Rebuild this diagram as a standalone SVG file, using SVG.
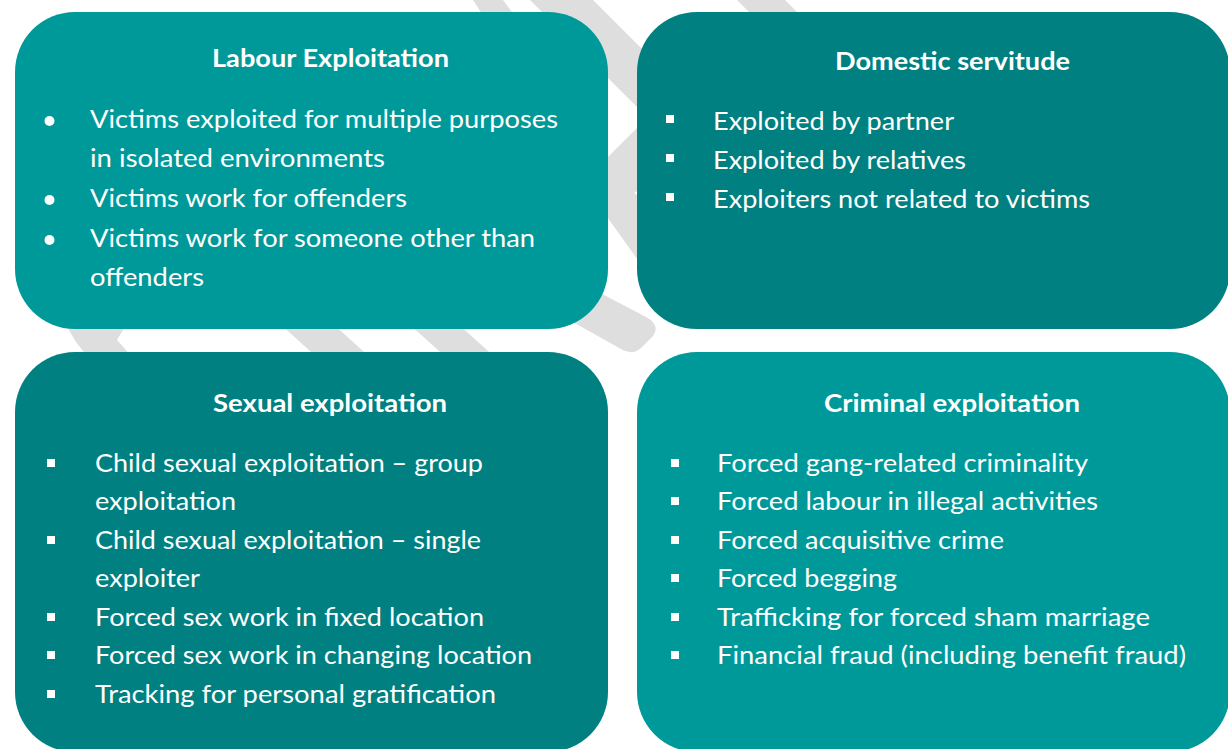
<svg xmlns="http://www.w3.org/2000/svg" width="1228" height="749" viewBox="0 0 1228 749">
  <style>
    .light { fill: #009999; }
    .dark { fill: #008080; }
    .deco { fill: #dedede; }
    .title { font-family: Lato, "Open Sans", "Liberation Sans", sans-serif; font-weight: 700; font-size: 25px; fill: #ffffff; text-anchor: middle; }
    .item { font-family: Lato, "Open Sans", "Liberation Sans", sans-serif; font-size: 25px; fill: #ffffff; }
    .sq { fill: #ffffff; }
  </style>
  <rect x="0" y="0" width="1228" height="749" fill="#ffffff"/>

  <g id="background-decoration">
    <polygon class="deco" points="473,0 503,0 540,50 505,50"/>
    <polygon class="deco" points="530,0 593,0 700,107 637,107"/>
    <polygon class="deco" points="737,0 785,0 835,50 787,50"/>
    <polygon class="deco" points="645,120 600,165 600,207 645,270 640,197 634,193 640,189"/>
    <path class="deco" d="M560,272 L648,318 Q660,326 653,336 L641,348 Q632,356 621,349 L555,312 Z"/>
    <polygon class="deco" points="268,313 321,313 384,370 331,370"/>
    <polygon class="deco" points="397,313 446,313 509,370 460,370"/>
    <path class="deco" d="M64,318 L130,318 L117,340 L135,360 L92,360 Q72,342 64,318 Z"/>
  </g>

  <g id="node-labour">
    <rect class="light" x="15" y="12" width="593" height="317" rx="60" ry="60"/>
    <text class="title" x="330.5" y="67" textLength="237" lengthAdjust="spacingAndGlyphs">Labour Exploitation</text>
    <circle class="sq" cx="49.5" cy="121" r="5"/>
    <circle class="sq" cx="49.5" cy="200" r="5"/>
    <circle class="sq" cx="49.5" cy="240" r="5"/>
    <text class="item" x="90" y="128" textLength="468" lengthAdjust="spacingAndGlyphs">Victims exploited for multiple purposes</text>
    <text class="item" x="90" y="167" textLength="295" lengthAdjust="spacingAndGlyphs">in isolated environments</text>
    <text class="item" x="90" y="207" textLength="317" lengthAdjust="spacingAndGlyphs">Victims work for offenders</text>
    <text class="item" x="90" y="247" textLength="445" lengthAdjust="spacingAndGlyphs">Victims work for someone other than</text>
    <text class="item" x="90" y="286" textLength="114" lengthAdjust="spacingAndGlyphs">offenders</text>
  </g>

  <g id="node-domestic">
    <rect class="dark" x="637" y="12" width="593" height="317" rx="60" ry="60"/>
    <text class="title" x="952.5" y="70" textLength="235" lengthAdjust="spacingAndGlyphs">Domestic servitude</text>
    <rect class="sq" x="666" y="115" width="8" height="8"/>
    <rect class="sq" x="666" y="154" width="8" height="8"/>
    <rect class="sq" x="666" y="193" width="8" height="8"/>
    <text class="item" x="713" y="130" textLength="241" lengthAdjust="spacingAndGlyphs">Exploited by partner</text>
    <text class="item" x="713" y="169" textLength="253" lengthAdjust="spacingAndGlyphs">Exploited by relatives</text>
    <text class="item" x="713" y="208" textLength="377" lengthAdjust="spacingAndGlyphs">Exploiters not related to victims</text>
  </g>

  <g id="node-sexual">
    <rect class="dark" x="15" y="352" width="593" height="400" rx="60" ry="60"/>
    <text class="title" x="330" y="412" textLength="234" lengthAdjust="spacingAndGlyphs">Sexual exploitation</text>
    <rect class="sq" x="47" y="459" width="8" height="8"/>
    <rect class="sq" x="47" y="536" width="8" height="8"/>
    <rect class="sq" x="47" y="613" width="8" height="8"/>
    <rect class="sq" x="47" y="651" width="8" height="8"/>
    <rect class="sq" x="47" y="690" width="8" height="8"/>
    <text class="item" x="95" y="472" textLength="388" lengthAdjust="spacingAndGlyphs">Child sexual exploitation – group</text>
    <text class="item" x="95" y="510" textLength="141" lengthAdjust="spacingAndGlyphs">exploitation</text>
    <text class="item" x="95" y="549" textLength="386" lengthAdjust="spacingAndGlyphs">Child sexual exploitation – single</text>
    <text class="item" x="95" y="587" textLength="105" lengthAdjust="spacingAndGlyphs">exploiter</text>
    <text class="item" x="95" y="626" textLength="389" lengthAdjust="spacingAndGlyphs">Forced sex work in fixed location</text>
    <text class="item" x="95" y="664" textLength="437" lengthAdjust="spacingAndGlyphs">Forced sex work in changing location</text>
    <text class="item" x="95" y="703" textLength="401" lengthAdjust="spacingAndGlyphs">Tracking for personal gratification</text>
  </g>

  <g id="node-criminal">
    <rect class="light" x="637" y="352" width="593" height="400" rx="60" ry="60"/>
    <text class="title" x="952" y="412" textLength="256" lengthAdjust="spacingAndGlyphs">Criminal exploitation</text>
    <rect class="sq" x="671" y="459" width="8" height="8"/>
    <rect class="sq" x="671" y="497" width="8" height="8"/>
    <rect class="sq" x="671" y="536" width="8" height="8"/>
    <rect class="sq" x="671" y="574" width="8" height="8"/>
    <rect class="sq" x="671" y="613" width="8" height="8"/>
    <rect class="sq" x="671" y="651" width="8" height="8"/>
    <text class="item" x="717" y="472" textLength="371" lengthAdjust="spacingAndGlyphs">Forced gang-related criminality</text>
    <text class="item" x="717" y="510" textLength="381" lengthAdjust="spacingAndGlyphs">Forced labour in illegal activities</text>
    <text class="item" x="717" y="549" textLength="287" lengthAdjust="spacingAndGlyphs">Forced acquisitive crime</text>
    <text class="item" x="717" y="587" textLength="180" lengthAdjust="spacingAndGlyphs">Forced begging</text>
    <text class="item" x="717" y="626" textLength="433" lengthAdjust="spacingAndGlyphs">Trafficking for forced sham marriage</text>
    <text class="item" x="717" y="664" textLength="469" lengthAdjust="spacingAndGlyphs">Financial fraud (including benefit fraud)</text>
  </g>
</svg>
